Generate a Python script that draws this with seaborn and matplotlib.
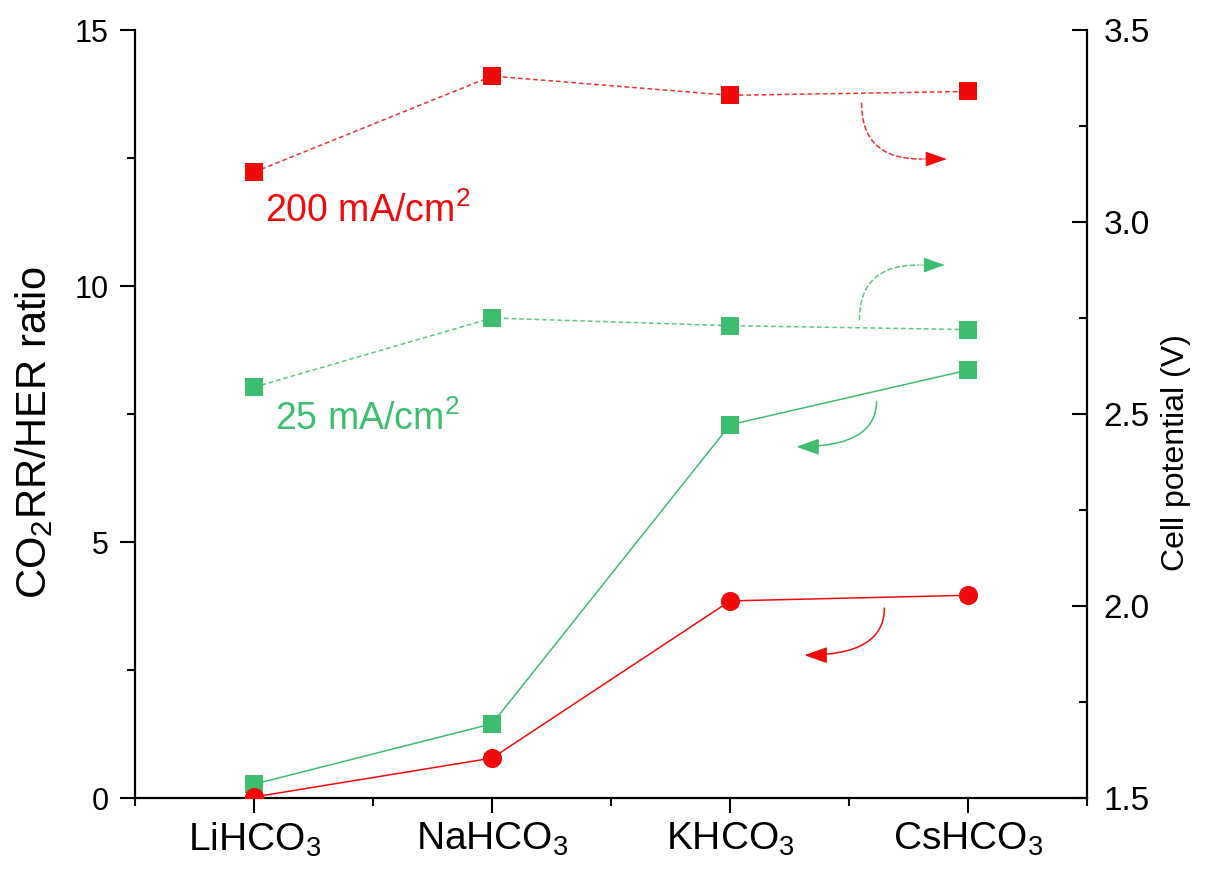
import matplotlib
matplotlib.use("Agg")
import matplotlib.pyplot as plt
from matplotlib import font_manager
import seaborn as sns
import pandas as pd

# Electrolyte cations
categories = ["LiHCO$_3$", "NaHCO$_3$", "KHCO$_3$", "CsHCO$_3$"]

# CO2RR/HER selectivity ratio (left axis)
ratio_200 = [0.02, 0.78, 3.85, 3.96]
ratio_25 = [0.27, 1.45, 7.29, 8.36]

# Full-cell potential in V (right axis)
potential_200 = [3.13, 3.38, 3.33, 3.34]
potential_25 = [2.57, 2.75, 2.73, 2.72]

RED = "#F00A0A"
GREEN = "#3CBE6E"
DASH = (0, (3, 2))

sns.set_theme(style="white")
plt.rcParams["font.family"] = ["Liberation Sans", "DejaVu Sans"]
plt.rcParams["mathtext.fontset"] = "custom"
plt.rcParams["mathtext.rm"] = "Liberation Sans"
plt.rcParams["mathtext.it"] = "Liberation Sans:italic"
plt.rcParams["mathtext.bf"] = "Liberation Sans:bold"
for key in ("text.color", "axes.labelcolor", "xtick.color", "ytick.color"):
    plt.rcParams[key] = "black"

installed = {f.name for f in font_manager.fontManager.ttflist}
if "Liberation Sans Narrow" in installed:
    cat_family, cat_size = ["Liberation Sans Narrow", "Liberation Sans"], 34
else:
    cat_family, cat_size = ["Liberation Sans", "DejaVu Sans"], 28

fig = plt.figure(figsize=(12.08, 8.73), dpi=100)
ax = fig.add_axes([0.1118, 0.0859, 0.7882, 0.8797])
ax2 = ax.twinx()

pos = list(range(len(categories)))
df = pd.DataFrame({
    "pos": pos,
    "ratio_200": ratio_200,
    "ratio_25": ratio_25,
    "pot_200": potential_200,
    "pot_25": potential_25,
})

# Selectivity ratio: solid lines
sns.lineplot(data=df, x="pos", y="ratio_25", ax=ax, color=GREEN, lw=1.1,
             sort=False, zorder=2)
sns.scatterplot(data=df, x="pos", y="ratio_25", ax=ax, color=GREEN,
                marker="s", s=150, linewidth=0, zorder=3)
sns.lineplot(data=df, x="pos", y="ratio_200", ax=ax, color=RED, lw=1.1,
             sort=False, zorder=2)
sns.scatterplot(data=df, x="pos", y="ratio_200", ax=ax, color=RED,
                marker="o", s=190, linewidth=0, zorder=4)

# Cell potential: dashed lines
for col, c in (("pot_200", RED), ("pot_25", GREEN)):
    sns.lineplot(data=df, x="pos", y=col, ax=ax2, color=c, lw=1.1,
                 sort=False, alpha=0.85, zorder=2)
    sns.scatterplot(data=df, x="pos", y=col, ax=ax2, color=c,
                    marker="s", s=150, linewidth=0, zorder=3)
for ln in ax2.get_lines():
    ln.set_linestyle(DASH)

ax.set_xlim(-0.5, 3.5)
ax.set_ylim(0, 15)
ax2.set_ylim(1.5, 3.5)

ax.set_xticks(pos)
ax.set_xticklabels(categories)
ax.set_xticks([-0.5, 0.5, 1.5, 2.5, 3.5], minor=True)
ax.set_yticks([0, 5, 10, 15])
ax.set_yticks([2.5, 7.5, 12.5], minor=True)
ax2.set_yticks([1.5, 2.0, 2.5, 3.0, 3.5])
ax2.set_yticklabels(["1.5", "2.0", "2.5", "3.0", "3.5"])
ax2.set_yticks([1.75, 2.25, 2.75, 3.25], minor=True)

ax.set_xlabel("")
ax.set_ylabel("CO$_2$RR/HER ratio", fontsize=30)
ax.yaxis.set_label_coords(-0.084, 0.475)
ax2.set_ylabel("Cell potential (V)", fontsize=23)
ax2.yaxis.set_label_coords(1.077, 0.45)

for a in (ax, ax2):
    a.spines["top"].set_visible(False)
    for s in a.spines.values():
        s.set_linewidth(1.6)
        s.set_color("black")
ax.spines["right"].set_visible(False)
ax2.spines["left"].set_visible(False)
ax2.spines["bottom"].set_visible(False)

ax.tick_params(axis="y", which="major", direction="out", length=11,
               width=1.5, labelsize=22, pad=8)
ax.tick_params(axis="x", which="major", direction="out", length=11,
               width=1.5, pad=5)
ax.tick_params(axis="both", which="minor", direction="out", length=6,
               width=1.5)
ax.tick_params(left=True, bottom=True, which="both")
ax2.tick_params(axis="y", which="major", direction="in", length=11,
                width=1.5, labelsize=24, pad=12, right=True)
ax2.tick_params(axis="y", which="minor", direction="in", length=6,
                width=1.5, right=True)

# Category labels in a condensed face when available
for lbl in ax.get_xticklabels():
    lbl.set_fontfamily(cat_family)
    lbl.set_fontsize(cat_size)

# Series labels
ax.text(0.046, 11.25, "200 mA/cm$^2$", color=RED, fontsize=27, va="baseline")
ax.text(0.088, 7.19, "25 mA/cm$^2$", color=GREEN, fontsize=27, va="baseline")

# Curved arrows pointing to each series' axis
head = "-|>,head_length=0.7,head_width=0.25"


def dashed_arrow(start, base, tip, color):
    ax.annotate("", xy=base, xytext=start,
                arrowprops=dict(arrowstyle="-", color=color, lw=1.1, alpha=0.85,
                                ls=DASH, shrinkA=0, shrinkB=0,
                                connectionstyle="angle3,angleA=90,angleB=0"))
    ax.annotate("", xy=tip, xytext=base,
                arrowprops=dict(arrowstyle=head, color=color, lw=0.5,
                                shrinkA=0, shrinkB=0, mutation_scale=20))


def solid_arrow(start, tip, color):
    ax.annotate("", xy=tip, xytext=start,
                arrowprops=dict(arrowstyle=head, color=color, lw=1.1,
                                shrinkA=0, shrinkB=0, mutation_scale=20,
                                connectionstyle="angle3,angleA=90,angleB=0"))


dashed_arrow((2.552, 13.57), (2.80, 12.48), (2.909, 12.48), RED)
dashed_arrow((2.543, 9.34), (2.79, 10.41), (2.901, 10.41), GREEN)
solid_arrow((2.615, 7.75), (2.278, 6.86), GREEN)
solid_arrow((2.648, 3.71), (2.312, 2.79), RED)

fig.savefig("out.png", dpi=100)
